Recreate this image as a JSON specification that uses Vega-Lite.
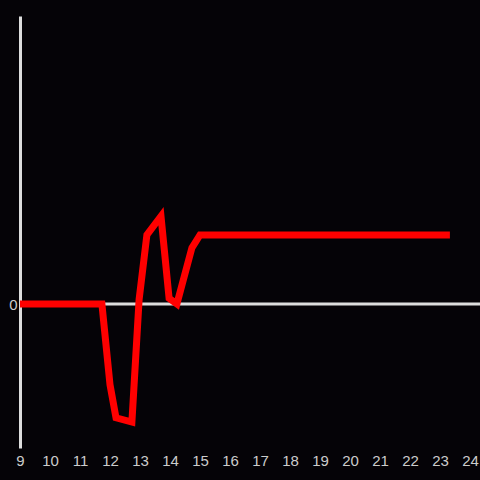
{
  "$schema": "https://vega.github.io/schema/vega-lite/v6.json",
  "autosize": "none",
  "width": 460,
  "height": 432,
  "padding": {"left": 20, "top": 16, "right": 0, "bottom": 32},
  "background": "#050307",
  "config": {"view": {"stroke": null}, "font": "DejaVu Sans"},
  "data": {"values": [
    {"t": 9, "v": 0},
    {"t": 11.73, "v": 0},
    {"t": 12.0, "v": -0.56},
    {"t": 12.2, "v": -0.79},
    {"t": 12.73, "v": -0.82},
    {"t": 12.97, "v": 0.03},
    {"t": 13.23, "v": 0.48},
    {"t": 13.7, "v": 0.61},
    {"t": 13.97, "v": 0.04},
    {"t": 14.23, "v": 0},
    {"t": 14.73, "v": 0.39},
    {"t": 15.0, "v": 0.48},
    {"t": 23.33, "v": 0.48}
  ]},
  "layer": [
    {
      "data": {"values": [{"z": 0}]},
      "mark": {"type": "rule", "color": "#dddddd", "strokeWidth": 3},
      "encoding": {"y": {"field": "z", "type": "quantitative", "scale": {"domain": [-1, 2]}}}
    },
    {
      "mark": {"type": "line", "color": "#ff0000", "strokeWidth": 7, "strokeJoin": "miter", "clip": false},
      "encoding": {
        "x": {"field": "t", "type": "quantitative", "scale": {"domain": [9, 24.3333], "nice": false, "zero": false},
          "axis": {"title": null, "values": [9,10,11,12,13,14,15,16,17,18,19,20,21,22,23,24], "domain": false, "ticks": false, "grid": false, "labelColor": "#cccccc", "labelFontSize": 15, "labelPadding": 5, "labelFlush": false, "labelFont": "Liberation Sans"}},
        "y": {"field": "v", "type": "quantitative", "scale": {"domain": [-1, 2], "nice": false},
          "axis": {"title": null, "values": [0], "format": "d", "domainColor": "#dddddd", "domainWidth": 3, "ticks": false, "grid": false, "labelColor": "#cccccc", "labelFontSize": 15, "labelPadding": 3, "labelFont": "Liberation Sans"}}
      }
    }
  ]
}
